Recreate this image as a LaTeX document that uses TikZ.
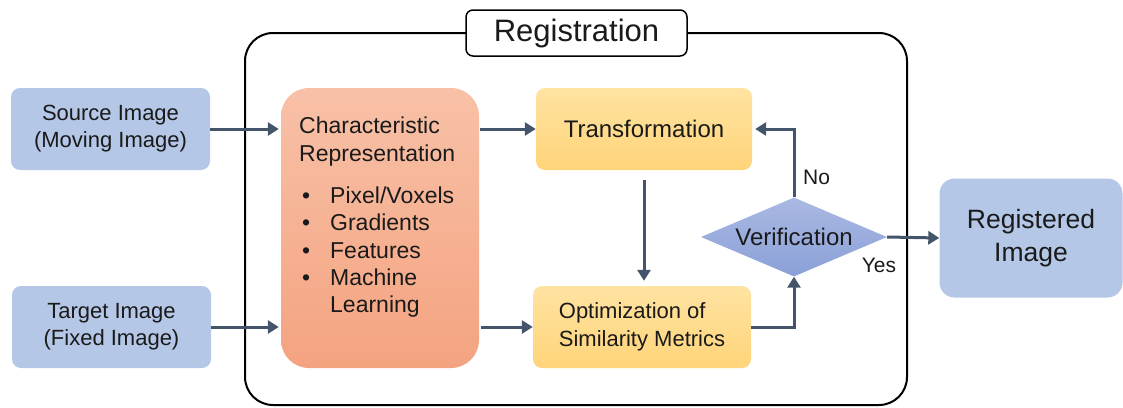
\documentclass[tikz,border=0pt]{standalone}
\usepackage{fontspec}
\setmainfont{Liberation Sans}
\usetikzlibrary{arrows.meta,shapes.geometric}
\definecolor{inblue}{HTML}{B4C7E7}
\definecolor{salmontop}{HTML}{F8C1A7}
\definecolor{salmonbot}{HTML}{F4A380}
\definecolor{ylwtop}{HTML}{FFE3A2}
\definecolor{ylwbot}{HTML}{FFD479}
\definecolor{diatop}{HTML}{AAB9E2}
\definecolor{diabot}{HTML}{8AA0D8}
\definecolor{arrowc}{HTML}{44546A}
\definecolor{txt}{HTML}{1A1A1A}
\begin{document}
\begin{tikzpicture}[x=1pt,y=-1pt,
  every node/.style={text=txt},
  inbox/.style={rectangle, rounded corners=9pt, fill=inblue, minimum width=199pt,
    minimum height=82pt, align=center, inner sep=0pt, font=\fontsize{22}{27}\selectfont},
  stepbox/.style={rectangle, rounded corners=9pt, top color=ylwtop, bottom color=ylwbot,
    minimum height=82pt, inner sep=0pt},
  flow/.style={draw=arrowc, line width=3pt, -{Triangle[length=11pt,width=13pt]}},
  lbl/.style={font=\fontsize{21}{25}\selectfont, inner sep=0pt}]
\useasboundingbox (0,0) rectangle (1123,407);

% registration frame and its title
\draw[line width=2pt, rounded corners=28pt] (245,33) rectangle (907,405);
\node[draw, fill=white, line width=1.5pt, rounded corners=7pt, minimum width=221pt,
  minimum height=46pt, inner sep=0pt, font=\fontsize{31}{37}\selectfont] (title) at (576.5,33) {Registration};

% inputs
\node[inbox] (src) at (110.5,129) {Source Image\\(Moving Image)};
\node[inbox] (tgt) at (111.5,327) {Target Image\\(Fixed Image)};

% characteristic representation
\node[rectangle, rounded corners=28pt, top color=salmontop, bottom color=salmonbot,
  minimum width=198pt, minimum height=280pt, inner sep=0pt] (char) at (380,228) {};
\node[anchor=north west, align=left, inner sep=0pt, font=\fontsize{23}{27.3}\selectfont]
  (chartext) at (299,117) {Characteristic\\Representation\\[15pt]
  \makebox[31pt][l]{\hspace{3pt}\textbullet}Pixel/Voxels\\
  \makebox[31pt][l]{\hspace{3pt}\textbullet}Gradients\\
  \makebox[31pt][l]{\hspace{3pt}\textbullet}Features\\
  \makebox[31pt][l]{\hspace{3pt}\textbullet}Machine\\
  \makebox[31pt][l]{}Learning};

% transformation and optimization
\node[stepbox, minimum width=216pt, font=\fontsize{24}{29}\selectfont] (trans) at (644,129) {Transformation};
\node[stepbox, minimum width=218pt, align=left, font=\fontsize{22}{28}\selectfont] (opt) at (642,327)
  {Optimization of\\Similarity Metrics};

% verification
\node[diamond, aspect=2.35, top color=diatop, bottom color=diabot, minimum width=186pt,
  minimum height=79pt, inner sep=0pt, font=\fontsize{24}{29}\selectfont] (ver) at (794,237) {Verification};

% output
\node[rectangle, rounded corners=15pt, fill=inblue, minimum width=183pt, minimum height=119pt,
  align=center, inner sep=0pt, font=\fontsize{26.5}{33}\selectfont] (reg) at (1031,238) {Registered\\Image};

% connectors
\draw[flow, shorten >=2pt] (src.east) -- (src.east -| char.west);
\draw[flow, shorten >=2pt] (tgt.east) -- (tgt.east -| char.west);
\draw[flow, shorten <=1pt] (char.east |- trans.west) -- (trans.west);
\draw[flow, shorten <=2pt] (char.east |- opt.west) -- (opt.west);
\draw[flow, shorten <=10pt, shorten >=5pt] (trans.south) -- (trans.south |- opt.north);
\draw[flow] (opt.east) -- (opt.east -| ver.south) -- (ver.south);
\draw[flow, shorten >=3pt] (ver.north) -- (ver.north |- trans.east) -- (trans.east);
\draw[flow] (ver.east) -- (reg.west);

% branch labels
\node[lbl] (no) at (816.5,177) {No};
\node[lbl] (yes) at (879,265) {Yes};
\end{tikzpicture}
\end{document}
